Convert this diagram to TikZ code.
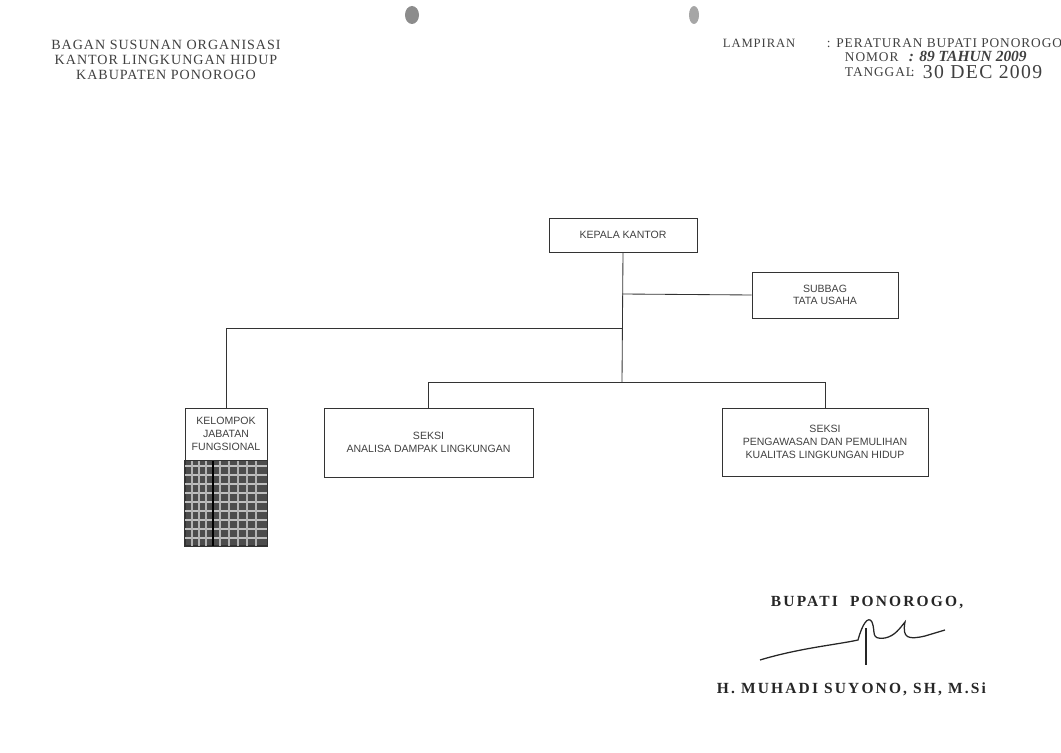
\documentclass[tikz,border=0pt]{standalone}
\usepackage{fontspec}
\setmainfont{Liberation Serif}
\newfontfamily\boxfont{Liberation Sans}
\newfontfamily\widefont[LetterSpace=7]{Liberation Serif}
\newfontfamily\signfont[LetterSpace=14]{Liberation Serif}
\usetikzlibrary{positioning}

\begin{document}
\begin{tikzpicture}[
    x=0.025cm, y=-0.025cm,
    box/.style={draw=black!80, line width=0.6pt, align=center, inner sep=1pt,
                font=\boxfont\fontsize{7.5}{9}\selectfont, text=black!75},
    line/.style={draw=black!80, line width=0.6pt},
    head/.style={anchor=base west, font=\widefont\fontsize{9.5}{11}\selectfont, text=black!75},
    sign/.style={anchor=base west, font=\signfont\bfseries\fontsize{11}{12}\selectfont, text=black!85},
]
\useasboundingbox (0,0) rectangle (1061,753);

% --- Lubang perforasi di atas ---
\fill[black!45] (412,15) ellipse (7 and 9);
\fill[black!35] (694,15) ellipse (5 and 9);

% --- Kepala surat (kiri) ---
\node[font=\widefont\fontsize{10}{10.7}\selectfont, text=black!75, align=center] (judul) at (166,60)
  {BAGAN SUSUNAN ORGANISASI\\KANTOR LINGKUNGAN HIDUP\\KABUPATEN PONOROGO};

% --- Lampiran (kanan) ---
\node[head, font=\widefont\fontsize{9}{11}\selectfont] (lampiran) at (718,48) {LAMPIRAN};
\node[head] (peraturan) at (822,48) {: PERATURAN BUPATI PONOROGO};
\node[head] (nomor) at (840,62) {NOMOR};
\node[head, font=\itshape\bfseries\fontsize{11}{12}\selectfont] (nomorisi) at (904,62) {: 89 TAHUN 2009};
\node[head] (tanggal) at (840,77) {TANGGAL};
\node[head] (titik) at (906,77) {:};
\node[head, font=\widefont\fontsize{14}{15}\selectfont] (tanggalisi) at (918,79) {30 DEC 2009};

% --- Kotak-kotak bagan ---
\node[box, minimum width=3.7cm, minimum height=0.85cm] (kepala) at (623,235) {KEPALA KANTOR};
\node[box, minimum width=3.65cm, minimum height=1.15cm] (subbag) at (825,295) {SUBBAG\\TATA USAHA};
\node[box, minimum width=2.05cm, minimum height=1.3cm] (kelompok) at (226,434) {KELOMPOK\\JABATAN\\FUNGSIONAL};
\node[box, minimum width=5.225cm, minimum height=1.725cm] (analisa) at (428.5,442.5)
  {SEKSI\\ANALISA DAMPAK LINGKUNGAN};
\node[box, minimum width=5.15cm, minimum height=1.7cm] (pengawasan) at (825,442)
  {SEKSI\\PENGAWASAN DAN PEMULIHAN\\KUALITAS LINGKUNGAN HIDUP};

% --- Arsiran di bawah kelompok jabatan fungsional ---
\node[draw=black!80, line width=0.6pt, fill=black!70, minimum width=2.05cm, minimum height=2.125cm,
      inner sep=0pt, below=0pt of kelompok] (arsir) {};
\foreach \yy in {466,475,...,540} {
  \draw[black!25, line width=1pt] (arsir.west |- 0,\yy) -- (arsir.east |- 0,\yy);
}
\foreach \xx in {192,199,206,220,229,238,247,256} {
  \draw[black!30, line width=0.9pt] (\xx,0 |- arsir.north) -- (\xx,0 |- arsir.south);
}
\draw[black, line width=1.4pt] (213,0 |- arsir.north) -- (213,0 |- arsir.south);
\draw[line] (arsir.north west) rectangle (arsir.south east);

% --- Garis penghubung ---
\coordinate (j1) at (622,294);
\coordinate (j2) at (622,328);
\coordinate (j3) at (622,382);
\draw[line] (kepala.south) -- (j3);
\draw[line] (j1) -- (subbag.west);
\draw[line] (j2) -| (kelompok.north);
\draw[line] (j3) -| (analisa.north);
\draw[line] (j3) -| (pengawasan.north);

% --- Tanda tangan ---
\node[sign, font=\signfont\bfseries\fontsize{11}{12}\selectfont] (bupati) at (766,607) {BUPATI \ PONOROGO,};
\draw[black!85, line width=0.9pt] (760,660) .. controls (800,648) and (835,645) .. (858,640)
  .. controls (862,625) and (868,615) .. (872,622) .. controls (876,632) and (870,640) .. (885,638)
  .. controls (895,636) and (900,628) .. (905,622) .. controls (902,638) and (908,640) .. (925,636)
  -- (945,630);
\draw[black!85, line width=0.8pt] (866,628) -- (866,665);
\node[sign] (nama) at (712,694) {H. MUHADI SUYONO, SH, M.Si};

\end{tikzpicture}
\end{document}
